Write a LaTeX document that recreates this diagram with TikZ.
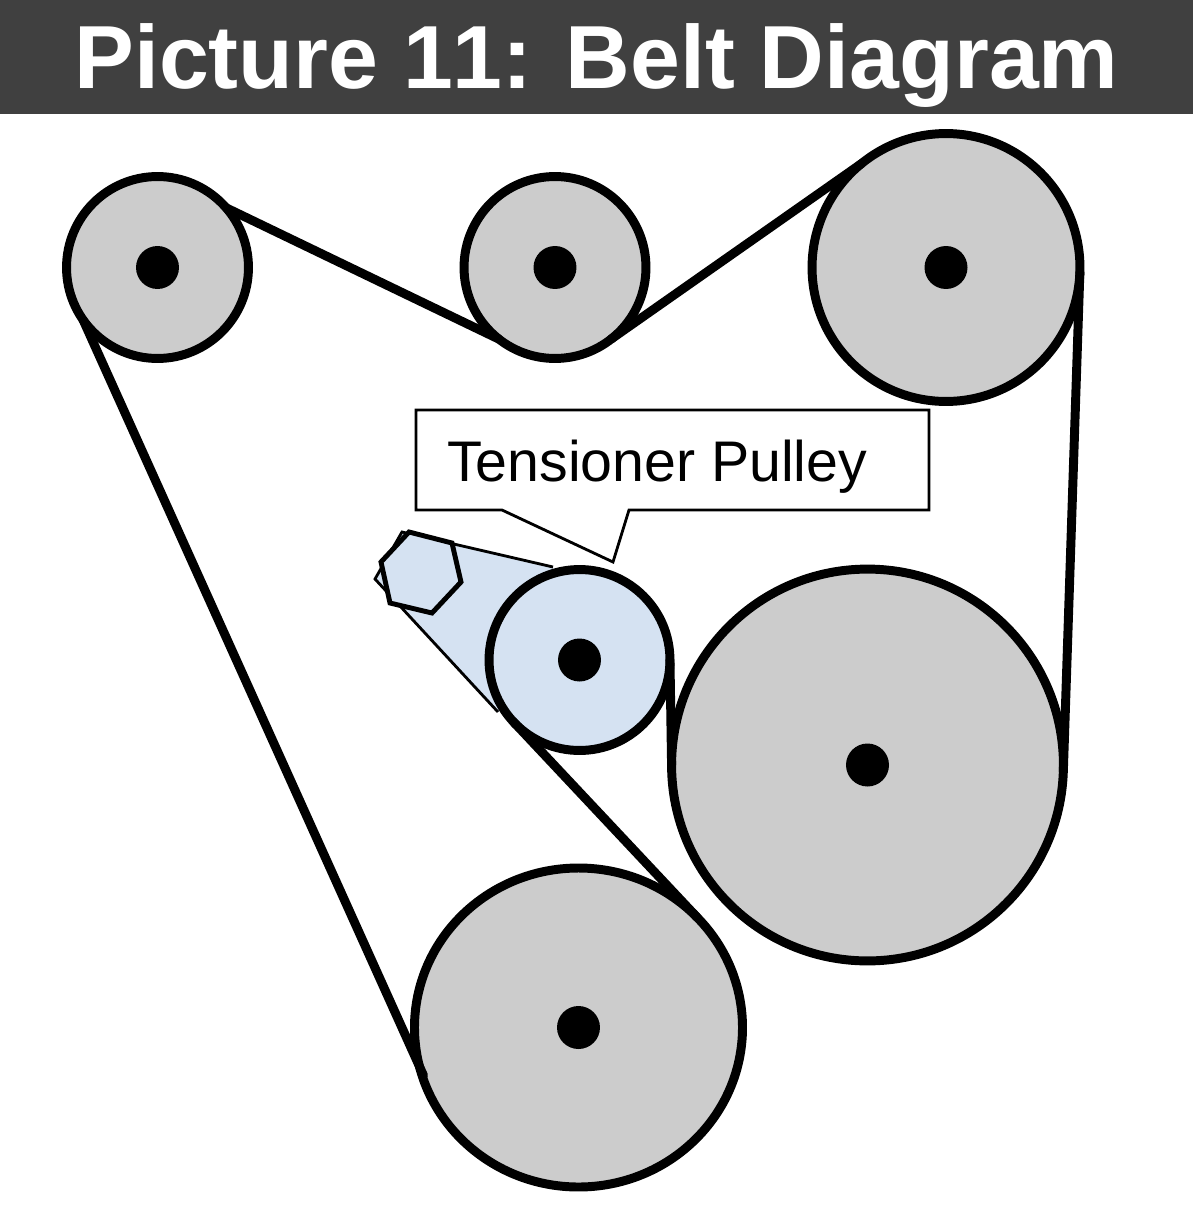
\documentclass[tikz,border=0pt]{standalone}
\usepackage{fontspec}
\usetikzlibrary{shapes.geometric}
\setmainfont{Liberation Sans}
\definecolor{bandgrey}{HTML}{404040}
\definecolor{pulleygrey}{HTML}{CCCCCC}
\definecolor{armblue}{HTML}{D5E2F2}
\tikzset{
  pulley/.style={circle,draw=black,line width=5.1pt,fill=pulleygrey,inner sep=0pt,outer sep=0pt,minimum size=#1*0.04cm},
  hub/.style={circle,fill=black,inner sep=0pt,outer sep=0pt,minimum size=#1*0.04cm},
  belt/.style={line width=5.1pt,line cap=round,black},
  thinline/.style={line width=1.6pt,black,line join=miter},
  labeltext/.style={inner sep=0pt,outer sep=0pt,anchor=base west}
}
\begin{document}
\begin{tikzpicture}[x=0.02cm,y=-0.02cm]
\useasboundingbox (0,0) rectangle (1200,1207);
\fill[white] (0,0) rectangle (1200,1207);
\fill[bandgrey] (0,0) rectangle (1193,114);
\node[labeltext,text=white] (title) at (74.5,88) {\addfontfeatures{Kerning=Off}\fontsize{51pt}{56pt}\selectfont\bfseries Picture 11: Belt Diagram};

% tensioner arm
\coordinate (armTop) at (402,532);
\coordinate (armApex) at (375,579);
\coordinate (armLow) at (498,712);
\coordinate (armEnd) at (553,567);
\fill[armblue] (armTop) -- (armApex) -- (armLow) -- (579,659) -- (armEnd) -- cycle;
\draw[thinline] (armEnd) -- (armTop) -- (armApex) -- (armLow);
\draw[line width=2.8pt,black,fill=armblue,line join=miter] (409,532) -- (452,543) -- (461,582) -- (432,613) -- (390,603) -- (381,562) -- cycle;

% pulleys
\node[pulley=91] (p1) at (157.5,267.5) {};
\node[pulley=91] (p2) at (555,267.5) {};
\node[pulley=134] (p3) at (946,267.5) {};
\node[pulley=90.5,fill=armblue] (p4) at (579.5,660) {};
\node[pulley=196] (p5) at (867.5,765) {};
\node[ellipse,draw=black,line width=5.1pt,fill=pulleygrey,inner sep=0pt,outer sep=0pt,minimum width=328*0.02cm,minimum height=319*0.02cm] (p6) at (578.5,1027.5) {};
\node[hub=21.5] (h1) at (p1) {};
\node[hub=21.5] (h2) at (p2) {};
\node[hub=21.5] (h3) at (p3) {};
\node[hub=21.5] (h4) at (p4) {};
\node[hub=21.5] (h5) at (p5) {};
\node[hub=21.5] (h6) at (p6) {};

% belt
\draw[belt] (p1.41) -- (p2.232.6);
\draw[belt] (p2.-52) -- (p3.129.6);
\draw[belt] (p3.-2.1) -- (p5.-2.1);
\draw[belt] (p5.180) -- (p4.0);
\draw[belt] (p4.223.6) -- (p6.43.6);
\draw[belt] ([xshift=0.8pt]p6.197) -- (p1.215);

% callout
\draw[thinline,fill=white] (416,410) -- (929,410) -- (929,510) -- (629,510) -- (613,562) -- (502,510) -- (416,510) -- cycle;
\node[labeltext] (tensioner) at (447,481) {\fontsize{32.6pt}{36pt}\selectfont Tensioner Pulley};
\end{tikzpicture}
\end{document}
